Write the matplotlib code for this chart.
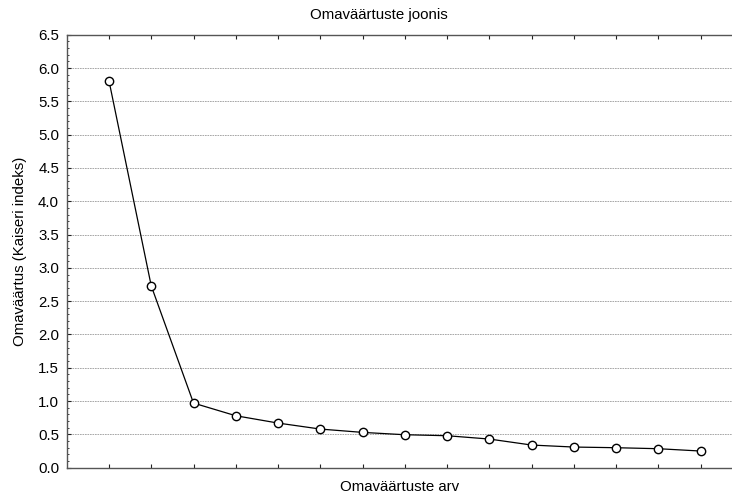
import numpy as np
import matplotlib.pyplot as plt
from matplotlib.ticker import MultipleLocator

plt.rcParams['font.family'] = ['Liberation Sans', 'DejaVu Sans']

# omaväärtused (loetud pildilt)
factor_no = list(range(1, 16))
eigenvalues = [5.81, 2.73, 0.97, 0.78, 0.67, 0.58, 0.53, 0.495, 0.48, 0.43,
               0.34, 0.31, 0.30, 0.285, 0.25]
y_ticks = [0.0, 0.5, 1.0, 1.5, 2.0, 2.5, 3.0, 3.5, 4.0, 4.5, 5.0, 5.5, 6.0, 6.5]

fig = plt.figure(figsize=(7.32, 4.95), dpi=100)
# right edge of the axes lies just outside the picture, like the original
ax = fig.add_axes([66.7 / 732, 27.3 / 495, 676.3 / 732, 433 / 495])

ax.plot(factor_no, eigenvalues, color='black', linewidth=0.9, marker='o',
        markersize=6, markerfacecolor='white', markeredgecolor='black',
        markeredgewidth=1.0, zorder=3)

ax.set_xlim(0, 16)
ax.set_ylim(0, 6.5)
ax.set_yticks(y_ticks)
ax.set_yticklabels([f"{v:.1f}" for v in y_ticks])
ax.yaxis.set_minor_locator(MultipleLocator(0.1))
ax.set_xticks(range(1, 16))
ax.set_xticklabels([])

ax.tick_params(axis='x', which='both', direction='in', top=True, bottom=True,
               length=3, width=0.8, color='#222222')
ax.tick_params(axis='y', which='major', direction='in', left=True, right=False,
               length=3, width=0.8, labelsize=10.8, pad=5.5, color='#222222')
ax.tick_params(axis='y', which='minor', direction='in', length=1.5, width=0.6,
               color='#222222')

ax.grid(axis='y', which='major', color='#9a9a9a', linestyle=(0, (2, 1)),
        linewidth=0.6, zorder=0)
ax.set_axisbelow(True)

for side in ['left', 'bottom', 'top', 'right']:
    ax.spines[side].set_color('#555555')
    ax.spines[side].set_linewidth(1.0)

fig.text(379 / 732, 1 - 15 / 495, "Omaväärtuste joonis", ha='center',
         va='center', fontsize=10.8)
fig.text(400 / 732, 1 - 487 / 495, "Omaväärtuste arv", ha='center',
         va='center', fontsize=10.8)
fig.text(20 / 732, 1 - 251 / 495, "Omaväärtus (Kaiseri indeks)", ha='center',
         va='center', rotation=90, fontsize=10.8)

fig.savefig("out.png", dpi=100)
